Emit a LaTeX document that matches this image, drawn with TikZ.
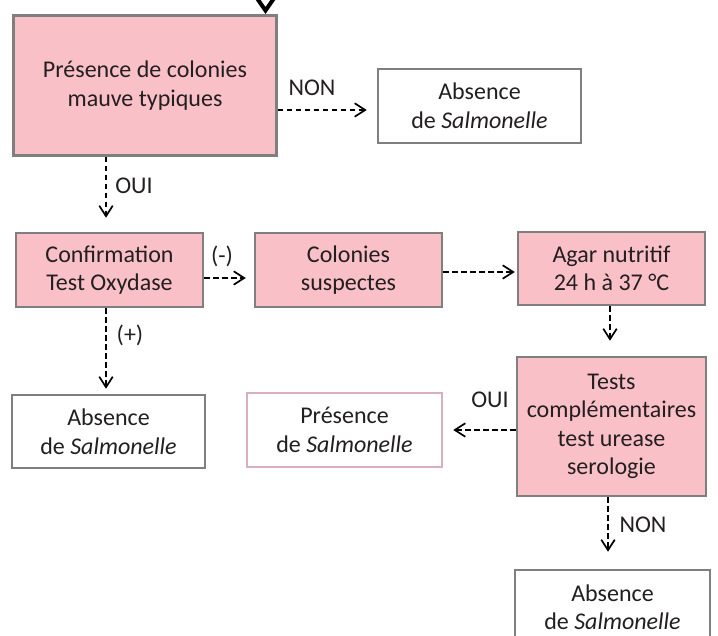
\documentclass[tikz,border=0pt]{standalone}
\usepackage{fontspec}
\setmainfont{Carlito}
\usetikzlibrary{arrows.meta,calc}
\definecolor{boxpink}{RGB}{249,192,199}
\definecolor{boxgray}{RGB}{127,127,127}
\definecolor{mauveline}{RGB}{216,174,192}
\definecolor{txt}{RGB}{35,31,32}
\begin{document}
\begin{tikzpicture}[x=1pt,y=-1pt,
  every node/.style={font=\fontsize{24}{28.5}\selectfont, text=txt},
  box/.style={draw=boxgray, line width=2.5pt, inner sep=0pt, align=center},
  pinkbox/.style={box, fill=boxpink},
  whitebox/.style={box, fill=white},
  flow/.style={draw=black, line width=1.5pt, dash pattern=on 5.5pt off 3.5pt,
    -{Straight Barb[length=10.5pt,width=13.5pt,line width=1.7pt]}},
  lbl/.style={inner sep=0pt}]
\useasboundingbox (0,0) rectangle (718,636);
\clip (0,0) rectangle (718,636);

% boxes
\node[pinkbox, minimum width=263pt, minimum height=140pt] (A) at (145,85.5) {Présence de colonies\\mauve typiques};
\node[whitebox, minimum width=203pt, minimum height=74pt] (B) at (479.5,106) {Absence\\de \textit{Salmonelle}};
\node[pinkbox, minimum width=187pt, minimum height=74pt] (C) at (109.5,270) {Confirmation\\Test Oxydase};
\node[pinkbox, minimum width=187pt, minimum height=74pt] (D) at (348.5,270) {Colonies\\suspectes};
\node[pinkbox, minimum width=187pt, minimum height=73pt] (E) at (611.5,268.5) {Agar nutritif\\24 h à 37 °C};
\node[pinkbox, minimum width=189pt, minimum height=139pt] (F) at (611.5,426.5) {Tests\\complémentaires\\test urease\\serologie};
\node[box, draw=mauveline, fill=white, minimum width=195pt, minimum height=74pt] (G) at (344.5,430) {Présence\\de \textit{Salmonelle}};
\node[whitebox, minimum width=193pt, minimum height=73pt] (H) at (108.5,431.5) {Absence\\de \textit{Salmonelle}};
\node[whitebox, minimum width=195pt, minimum height=74pt] (I) at (612.5,607) {Absence\\de \textit{Salmonelle}};

% incoming arrow tip at top (from off-picture)
\coordinate (topL) at (257.5,-1);
\coordinate (topT) at (265.5,10.5);
\coordinate (topR) at (273.5,-1);
\draw[line width=4pt, black] (topL) -- (topT) -- (topR);

% connectors
\draw[flow, shorten >=10pt] ([yshift=-24.5pt]A.east) -- ([yshift=-24.5pt]A.east -| B.west);
\draw[flow, shorten >=14pt] ([xshift=-3.5pt]C.north |- A.south) -- ([xshift=-3.5pt]C.north);
\draw[flow, shorten >=8pt] ([yshift=-8pt]C.east) -- ([yshift=-8pt]C.east -| D.west);
\draw[flow, shorten >=5pt] ([xshift=-3.5pt]C.south) -- ([xshift=-3.5pt]C.south |- H.north);
\draw[flow, shorten >=2pt] ([yshift=-2pt]D.east) -- ([yshift=-2pt]D.east -| E.west);
\draw[flow, shorten >=15pt] ([xshift=-1.5pt]E.south) -- ([xshift=-1.5pt]E.south |- F.north);
\draw[flow, shorten >=10pt] (G.east -| F.west) -- (G.east);
\draw[flow, shorten >=17pt] ([xshift=-3.5pt]F.south) -- ([xshift=-3.5pt]F.south |- I.north);

% labels
\node[lbl] (l1) at (312,88) {NON};
\node[lbl] (l2) at (134,186) {OUI};
\node[lbl] (l3) at (222,256) {(-)};
\node[lbl] (l4) at (130,335) {(+)};
\node[lbl] (l5) at (490,400) {OUI};
\node[lbl] (l6) at (643,525) {NON};
\end{tikzpicture}
\end{document}
